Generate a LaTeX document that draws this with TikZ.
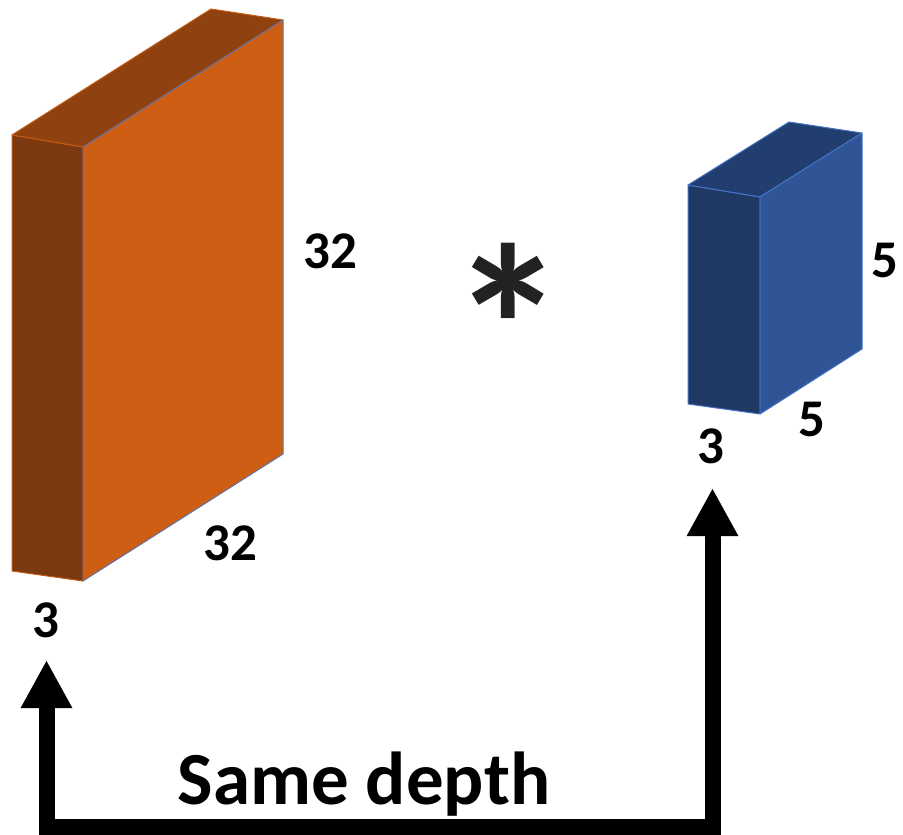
\documentclass[tikz,border=0pt]{standalone}
\usepackage{fontspec}
\setmainfont{Carlito}
\usetikzlibrary{arrows.meta}

\definecolor{orFront}{RGB}{205,94,20}
\definecolor{orTop}{RGB}{143,66,16}
\definecolor{orSide}{RGB}{122,57,16}
\definecolor{orEdge}{RGB}{197,90,17}
\definecolor{frontEdge}{RGB}{96,112,168}
\definecolor{blFront}{RGB}{47,85,151}
\definecolor{blTop}{RGB}{34,62,111}
\definecolor{blSide}{RGB}{32,56,100}
\definecolor{blEdge}{RGB}{68,114,196}
\definecolor{starGrey}{RGB}{34,34,34}

\begin{document}
\begin{tikzpicture}[x=1pt,y=-1pt,
  dimlabel/.style={font=\fontsize{53}{60}\selectfont\bfseries, inner sep=0pt, anchor=base},
  face/.style={line width=1pt, line join=round},
  bigarrow/.style={line width=16pt, line join=miter, line cap=butt,
    {Triangle[length=48pt,width=48pt]}-{Triangle[length=48pt,width=48pt]}}]
\useasboundingbox (0,0) rectangle (903,835);

% input volume 32x32x3
\filldraw[face, fill=orSide, draw=orEdge] (12,135) -- (83,147) -- (83,581) -- (12,571) -- cycle;
\filldraw[face, fill=orTop, draw=orEdge] (12,135) -- (211,9) -- (283,20) -- (83,147) -- cycle;
\filldraw[face, fill=orFront, draw=frontEdge] (83,147) -- (283,20) -- (283,454) -- (83,581) -- cycle;

% filter 5x5x3
\filldraw[face, fill=blSide, draw=blEdge] (688,185) -- (760,197) -- (760,414) -- (688,404) -- cycle;
\filldraw[face, fill=blTop, draw=blEdge] (688,185) -- (789,122) -- (862,133) -- (760,197) -- cycle;
\filldraw[face, fill=blFront, draw=blEdge] (760,197) -- (862,133) -- (862,349) -- (760,414) -- cycle;

% dimension labels
\node[dimlabel] (inH) at (330,268) {32};
\node[dimlabel] (inW) at (230,560) {32};
\node[dimlabel] (inD) at (46,637) {3};
\node[dimlabel] (fH) at (885,277) {5};
\node[dimlabel] (fW) at (812,436) {5};
\node[dimlabel] (fD) at (711,463) {3};

% convolution operator
\node[font=\fontsize{150}{150}\selectfont\bfseries, text=starGrey, inner sep=0pt, scale=1.55] (conv) at (508,326) {*};

% depth connector
\coordinate (tipR) at (712.5,488);
\coordinate (cornerR) at (712.5,826.5);
\coordinate (cornerL) at (46.5,826.5);
\coordinate (tipL) at (46.5,660);
\draw[bigarrow] (tipR) -- (cornerR) -- (cornerL) -- (tipL);

\node[font=\fontsize{75}{80}\selectfont\bfseries, inner sep=0pt, anchor=base] (same) at (364,804) {Same depth};
\end{tikzpicture}
\end{document}
